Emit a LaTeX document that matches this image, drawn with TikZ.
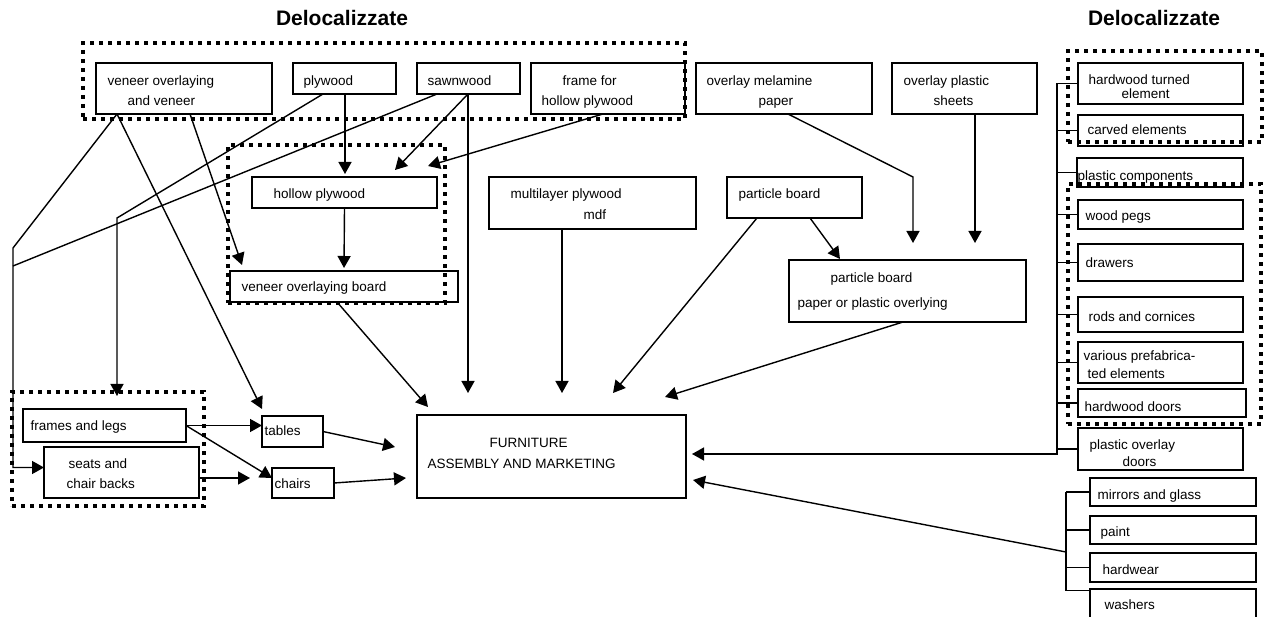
\documentclass[tikz,border=0pt]{standalone}
\usepackage{fontspec}
\setmainfont{Liberation Sans}
\usetikzlibrary{arrows.meta,fit}

\begin{document}
\begin{tikzpicture}[x=1pt, y=-1pt, >={Triangle[length=12pt,width=13pt]},
  font=\fontsize{13.5}{16}\selectfont, line width=1.4pt,
  box/.style={draw, inner sep=0pt, outer sep=0pt},
  grp/.style={draw, line width=4pt, dash pattern=on 4pt off 5pt, inner sep=0pt, outer sep=0pt},
  txt/.style={anchor=mid west, inner sep=0pt, yshift=-2.5pt},
  title/.style={font=\fontsize{21}{25}\selectfont\bfseries}]
  \useasboundingbox (0,0) rectangle (1272,617);

  % titles
  \node[title] (titleL) at (342,18) {Delocalizzate};
  \node[title] (titleR) at (1154,18) {Delocalizzate};

  % boxes
  \node[box, fit={(96,63) (272,114)}] (veneer) {};
  \node[box, fit={(293,63) (396,94)}] (plywood) {};
  \node[box, fit={(417,63) (520,94)}] (sawn) {};
  \node[box, fit={(531,63) (685,114)}] (frame) {};
  \node[box, fit={(696,63) (872,114)}] (melamine) {};
  \node[box, fit={(892,63) (1037,114)}] (plastic) {};
  \node[box, fit={(252,177) (437,208)}] (hollow) {};
  \node[box, fit={(230,271) (458,302)}] (vboard) {};
  \node[box, fit={(489,177) (696,229)}] (mdf) {};
  \node[box, fit={(727,177) (862,218)}] (pboard) {};
  \node[box, fit={(789,260) (1026,322)}] (poverlay) {};
  \node[box, fit={(417,415) (686,498)}] (furn) {};
  \node[box, fit={(23,409) (186,442)}] (legs) {};
  \node[box, fit={(44,447) (199,498)}] (seats) {};
  \node[box, fit={(262,416) (323,447)}] (tables) {};
  \node[box, fit={(272,468) (334,498)}] (chairs) {};
  \node[box, fit={(1078,63) (1243,104)}] (turned) {};
  \node[box, fit={(1078,115) (1243,146)}] (carved) {};
  \node[box, fit={(1077,158) (1243,187)}] (plcomp) {};
  \node[box, fit={(1078,200) (1243,229)}] (pegs) {};
  \node[box, fit={(1078,244) (1243,281)}] (drawers) {};
  \node[box, fit={(1078,297) (1243,332)}] (rods) {};
  \node[box, fit={(1078,342) (1243,383)}] (prefab) {};
  \node[box, fit={(1078,389) (1246,417)}] (hwdoors) {};
  \node[box, fit={(1078,428) (1243,470)}] (podoors) {};
  \node[box, fit={(1090,478) (1256,506)}] (mirrors) {};
  \node[box, fit={(1090,516) (1256,544)}] (paint) {};
  \node[box, fit={(1090,553) (1256,582)}] (hardwear) {};
  \node[box, fit={(1090,589) (1256,622)}] (washers) {};

  % texts
  \node[txt] (veneer-1) at (107,80) {veneer overlaying};
  \node[txt] (veneer-2) at (127,100) {and veneer};
  \node[txt] (plywood-1) at (303,80) {plywood};
  \node[txt] (sawn-1) at (427,80) {sawnwood};
  \node[txt] (frame-1) at (562,80) {frame for};
  \node[txt] (frame-2) at (541,100) {hollow plywood};
  \node[txt] (melamine-1) at (706,80) {overlay melamine};
  \node[txt] (melamine-2) at (758,100) {paper};
  \node[txt] (plastic-1) at (903,80) {overlay plastic};
  \node[txt] (plastic-2) at (933,100) {sheets};
  \node[txt] (hollow-1) at (273,193) {hollow plywood};
  \node[txt] (vboard-1) at (241,286) {veneer overlaying board};
  \node[txt] (mdf-1) at (510,193) {multilayer plywood};
  \node[txt] (mdf-2) at (583,214) {mdf};
  \node[txt] (pboard-1) at (738,193) {particle board};
  \node[txt] (poverlay-1) at (830,277) {particle board};
  \node[txt] (poverlay-2) at (797,302) {paper or plastic overlying};
  \node[txt] (furn-1) at (489,442) {FURNITURE};
  \node[txt] (furn-2) at (427,463) {ASSEMBLY AND MARKETING};
  \node[txt] (legs-1) at (30,425) {frames and legs};
  \node[txt] (seats-1) at (68,463) {seats and};
  \node[txt] (seats-2) at (66,483) {chair backs};
  \node[txt] (tables-1) at (264,430) {tables};
  \node[txt] (chairs-1) at (274,483) {chairs};
  \node[txt] (turned-1) at (1088,79) {hardwood turned};
  \node[txt] (turned-2) at (1121,93) {element};
  \node[txt] (carved-1) at (1087,129) {carved elements};
  \node[txt] (plcomp-1) at (1077,175) {plastic components};
  \node[txt] (pegs-1) at (1085,215) {wood pegs};
  \node[txt] (drawers-1) at (1085,262) {drawers};
  \node[txt] (rods-1) at (1088,316) {rods and cornices};
  \node[txt] (prefab-1) at (1083,355) {various prefabrica-};
  \node[txt] (prefab-2) at (1087,373) {ted elements};
  \node[txt] (hwdoors-1) at (1084,406) {hardwood doors};
  \node[txt] (podoors-1) at (1089,444) {plastic overlay};
  \node[txt] (podoors-2) at (1122,461) {doors};
  \node[txt] (mirrors-1) at (1097,494) {mirrors and glass};
  \node[txt] (paint-1) at (1100,531) {paint};
  \node[txt] (hardwear-1) at (1102,569) {hardwear};
  \node[txt] (washers-1) at (1104,604) {washers};

  % dotted groups (delocalised)
  \node[grp, fit={(83,43) (685,119)}] (gTop) {};
  \node[grp, fit={(228,145) (445,303)}] (gHollow) {};
  \node[grp, fit={(12,392) (204,506)}] (gLeft) {};
  \node[grp, fit={(1068,51) (1262,142)}] (gRight1) {};
  \node[grp, fit={(1068,184) (1261,424)}] (gRight2) {};

  % bends and free ends
  \coordinate (bendL) at (13,248);
  \coordinate (joinL) at (13,266);
  \coordinate (bendF) at (117,218);
  \coordinate (legsTip) at (117,396);
  \coordinate (bendM) at (913,177);
  \coordinate (chairsIn) at (250,478);
  \coordinate (busR) at (1057,454);
  \coordinate (busB) at (1066,552);

  % connectors, top row
  \draw[->] ([xshift=21pt]veneer.south west) -- (bendL) |- ([yshift=5pt]seats.west);
  \draw ([xshift=20pt]sawn.south west) -- (joinL);
  \draw[->] ([xshift=21pt]veneer.south west) -- ([yshift=7pt]tables.north west);
  \draw[->] ([xshift=94pt]veneer.south west) -- ([xshift=12pt,yshift=6pt]vboard.north west);
  \draw[->] ([xshift=30pt]plywood.south west) -- (bendF) -- (legsTip);
  \draw[->] ([xshift=52pt]plywood.south west) -- ([xshift=93pt,yshift=3pt]hollow.north west);
  \draw[->] ([xshift=51pt]sawn.south west) -- ([xshift=143pt,yshift=7pt]hollow.north west);
  \draw[->] ([xshift=51pt]sawn.south west) -- ([xshift=51pt,yshift=22pt]furn.north west);
  \draw[->] ([xshift=72pt]frame.south west) -- ([xshift=-9pt,yshift=11pt]hollow.north east);
  \draw[->] (hollow.south) -- ([yshift=3pt]vboard.north);
  \draw[->] ([xshift=92pt]melamine.south west) -- (bendM) -- ([xshift=124pt,yshift=17pt]poverlay.north west);
  \draw[->] ([xshift=83pt]plastic.south west) -- ([xshift=186pt,yshift=17pt]poverlay.north west);
  \draw[->] ([xshift=83pt]pboard.south west) -- ([xshift=51pt,yshift=1pt]poverlay.north west);

  % into furniture
  \draw[->] ([xshift=107pt]vboard.south west) -- ([xshift=11pt,yshift=8pt]furn.north west);
  \draw[->] ([xshift=73pt]mdf.south west) -- ([xshift=145pt,yshift=22pt]furn.north west);
  \draw[->] ([xshift=30pt]pboard.south west) -- ([xshift=196pt,yshift=22pt]furn.north west);
  \draw[->] ([xshift=114pt]poverlay.south west) -- ([xshift=248pt,yshift=18pt]furn.north west);

  % frames, seats, tables, chairs
  \draw[->] (legs.east) -- (legs.east -| tables.west);
  \draw[->] (legs.east) -- ([yshift=5pt]chairs.west);
  \draw[->] ([yshift=-5.5pt]seats.east) -- (chairsIn);
  \draw[->] (tables.east) -- ([xshift=-22pt,yshift=-32pt]furn.north west);
  \draw[->] (chairs.east) -- ([xshift=-11pt,yshift=-21.5pt]furn.west);

  % right column bus
  \draw[->] (turned.west -| busR) -- (busR) -- ([xshift=6pt,yshift=2.5pt]furn.east);
  \foreach \n in {turned,carved,plcomp,pegs,drawers,rods,prefab,hwdoors,podoors}
    \draw (\n.west -| busR) -- (\n.west);

  % bottom right bus
  \draw (mirrors.west -| busB) -- ([yshift=15pt]washers.west -| busB);
  \foreach \n in {mirrors,paint,hardwear}
    \draw (\n.west -| busB) -- (\n.west);
  \draw ([yshift=15pt]washers.west -| busB) -- ([yshift=15pt]washers.west);
  \draw[->] (busB) -- ([xshift=7pt,yshift=-23.5pt]furn.east);
\end{tikzpicture}
\end{document}
